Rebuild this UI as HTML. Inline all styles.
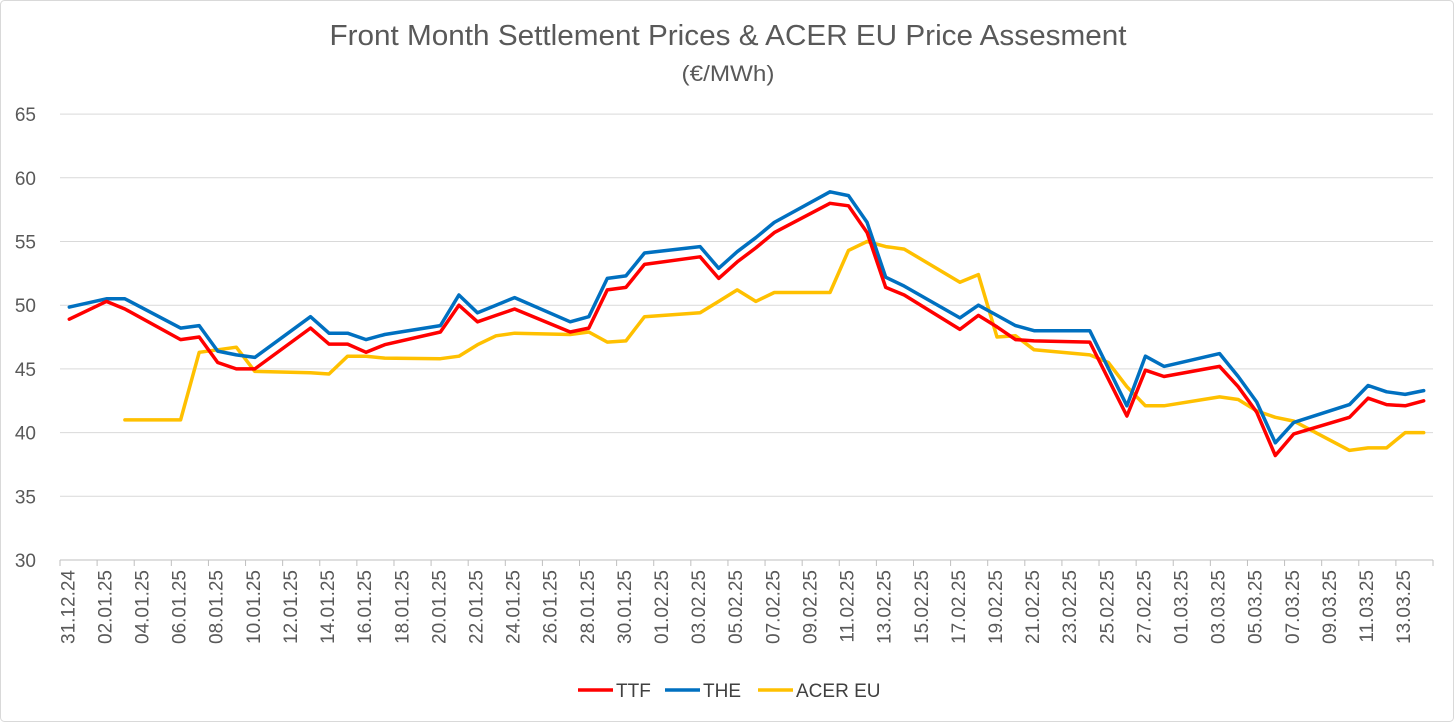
<!DOCTYPE html>
<html><head><meta charset="utf-8"><style>
html,body{margin:0;padding:0;background:#fff;}
svg{display:block;font-family:"Liberation Sans",sans-serif;}
</style></head><body>
<svg id="chart" width="1456" height="724" viewBox="0 0 1456 724">
<rect x="0.5" y="0.5" width="1453" height="721" rx="4" fill="#fff" stroke="#d9d9d9"/>
<text x="728" y="45" text-anchor="middle" font-size="29" fill="#595959" textLength="797" lengthAdjust="spacingAndGlyphs">Front Month Settlement Prices &amp; ACER EU Price Assesment</text>
<text x="728" y="81" text-anchor="middle" font-size="22" fill="#595959" textLength="93" lengthAdjust="spacingAndGlyphs">(€/MWh)</text>
<g id="grid"></g><g id="yt"></g><g id="xt"></g><g id="series"></g>
<g>
<g><line x1="578" y1="690" x2="613" y2="690" stroke="#ff0000" stroke-width="3.5"/><text x="616" y="697" font-size="19" fill="#404040">TTF</text></g>
<g><line x1="665" y1="690" x2="700" y2="690" stroke="#0070c0" stroke-width="3.5"/><text x="703" y="697" font-size="19" fill="#404040">THE</text></g>
<g><line x1="758" y1="690" x2="793" y2="690" stroke="#ffc000" stroke-width="3.5"/><text x="796" y="697" font-size="19" fill="#404040">ACER EU</text></g>
</g>
</svg>
<script>
const yTicks=[30,35,40,45,50,55,60,65];
const startDate=[2024,11,31];
const nDays=74;
const ttfDays=[0,2,3,6,7,8,9,10,13,14,15,16,17,20,21,22,23,24,27,28,29,30,31,34,35,36,37,38,41,42,43,44,45,48,49,50,51,52,55,57,58,59,62,63,64,65,66,69,70,71,72,73];
const ttfVals=[48.9,50.3,49.7,47.3,47.5,45.5,45.0,45.0,48.2,46.95,46.95,46.3,46.9,47.9,50.0,48.7,49.2,49.7,47.9,48.2,51.2,51.4,53.2,53.8,52.1,53.4,54.5,55.7,58.0,57.8,55.7,51.4,50.8,48.1,49.2,48.3,47.3,47.2,47.1,41.3,44.9,44.4,45.2,43.6,41.6,38.2,39.9,41.2,42.7,42.2,42.1,42.5];
const theDays=[0,2,3,6,7,8,9,10,13,14,15,16,17,20,21,22,23,24,27,28,29,30,31,34,35,36,37,38,41,42,43,44,45,48,49,50,51,52,55,57,58,59,62,63,64,65,66,69,70,71,72,73];
const theVals=[49.85,50.5,50.5,48.2,48.4,46.4,46.1,45.9,49.1,47.8,47.8,47.3,47.7,48.4,50.8,49.4,50.0,50.6,48.7,49.1,52.1,52.3,54.1,54.6,52.9,54.2,55.3,56.5,58.9,58.6,56.5,52.2,51.5,49.0,50.0,49.2,48.4,48.0,48.0,42.1,46.0,45.2,46.2,44.4,42.4,39.2,40.8,42.2,43.7,43.2,43.0,43.3];
const acerDays=[3,6,7,8,9,10,13,14,15,16,17,20,21,22,23,24,27,28,29,30,31,34,35,36,37,38,41,42,43,44,45,48,49,50,51,52,55,56,57,58,59,62,63,64,65,66,69,70,71,72,73];
const acerVals=[41.0,41.0,46.3,46.5,46.7,44.8,44.7,44.6,46.0,46.0,45.85,45.8,46.0,46.9,47.6,47.8,47.7,47.9,47.1,47.2,49.1,49.4,50.3,51.2,50.3,51.0,51.0,54.3,55.0,54.6,54.4,51.8,52.4,47.5,47.6,46.5,46.1,45.5,43.6,42.1,42.1,42.8,42.6,41.7,41.2,40.9,38.6,38.8,38.8,40.0,40.0];

const NS='http://www.w3.org/2000/svg';
const X0=60,X1=1433,Y30=560,YPER=12.74;
const cw=(X1-X0)/nDays;
function xs(d){return X0+(d+0.5)*cw;}
function ys(v){return Y30-(v-30)*YPER;}
function mk(tag,attrs,parent){const e=document.createElementNS(NS,tag);for(const k in attrs)e.setAttribute(k,attrs[k]);parent.appendChild(e);return e;}
const grid=document.getElementById('grid'),yt=document.getElementById('yt'),xt=document.getElementById('xt'),ser=document.getElementById('series');
yTicks.forEach(v=>{
  const l=mk('line',{x1:X0,x2:X1,y1:ys(v),y2:ys(v),stroke:v===30?'#bfbfbf':'#d9d9d9','stroke-width':1},grid);
  
  
  const t=mk('text',{x:36,y:ys(v)+7,'text-anchor':'end','font-size':19,fill:'#595959'},yt);
  t.textContent=v;
  
  
});
function p2(n){return (n<10?'0':'')+n;}
for(let d=0;d<nDays;d++){
  if(d%2===0){
    const tk=mk('line',{x1:X0+d*cw,x2:X0+d*cw,y1:560,y2:566,stroke:'#bfbfbf'},xt);
    
    
    const dt=new Date(startDate[0],startDate[1],startDate[2]+d);
    const lbl=p2(dt.getDate())+'.'+p2(dt.getMonth()+1)+'.'+String(dt.getFullYear()).slice(2);
    const cx=xs(d)+5;
    const t=mk('text',{x:cx,y:570,'text-anchor':'end','font-size':19,fill:'#595959',transform:'rotate(-90 '+cx+' 570)'},xt);
    t.textContent=lbl;
    
    
  }
}
mk('line',{x1:X1,x2:X1,y1:560,y2:566,stroke:'#bfbfbf'},xt);
function line(days,vals,color,name){
  const pts=days.map((d,i)=>xs(d).toFixed(1)+','+ys(vals[i]).toFixed(1)).join(' ');
  const p=mk('polyline',{points:pts,fill:'none',stroke:color,'stroke-width':3.5,'stroke-linejoin':'round','stroke-linecap':'round'},ser);
  
  
}
line(acerDays,acerVals,'#ffc000','series-acer-eu');
line(theDays,theVals,'#0070c0','series-the');
line(ttfDays,ttfVals,'#ff0000','series-ttf');
</script>
</body></html>
